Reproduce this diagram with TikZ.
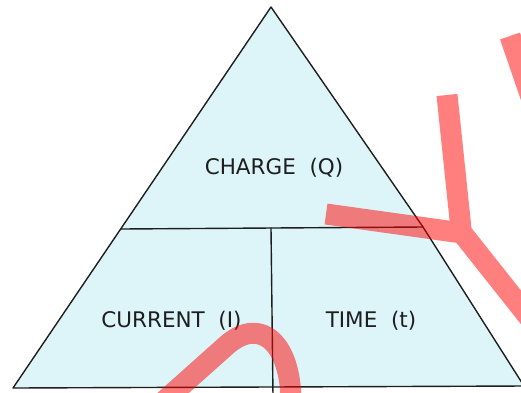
\documentclass[tikz,border=0pt]{standalone}
\usepackage{fontspec}
\setmainfont{DejaVu Sans}
\usepackage{tikz}
\usepackage{tkz-euclide}
\definecolor{pyrfill}{RGB}{221,245,249}
\definecolor{pyrline}{RGB}{30,30,30}
\tikzset{
  qlabel/.style={anchor=base, text=pyrline, font=\fontsize{21.5}{24}\selectfont},
  wmark/.style={draw=red, line width=21pt, line join=round}
}
\begin{document}
\begin{tikzpicture}[x=1pt, y=-1pt]
            \useasboundingbox (0,0) rectangle (521,392);
            \clip (0,0) rectangle (521,392);
            \tkzDefPoints{271/7/T, 121/229/L, 13/388/A, 423/227/R, 524/386/B, 271/228/M, 273/396/N}
            \tkzFillPolygon[fill=pyrfill](T,R,B,A)
            \tkzDrawPolygon[draw=pyrline, line width=1.4pt](T,R,B,A)
            \tkzDrawSegments[draw=pyrline, line width=1.4pt](L,R M,N)
            \node[qlabel] (charge) at (274,174) {CHARGE\ \ (Q)};
            \node[qlabel] (current) at (171.5,327) {CURRENT\ \ (I)};
            \node[qlabel] (time) at (371,327) {TIME\ \ (t)};
            % watermark strokes
            \begin{scope}[transparency group, opacity=0.5]
            \draw[wmark] (447,95) -- (461,229);
            \draw[wmark] (326,214) -- (462,233) -- (535,325);
            \draw[wmark] (510,36) -- (532,100);
            \draw[wmark] (163,402) -- (228,344) .. controls (262,316) and (291,345) .. (291,402);
            \end{scope}
        \end{tikzpicture}
\end{document}
